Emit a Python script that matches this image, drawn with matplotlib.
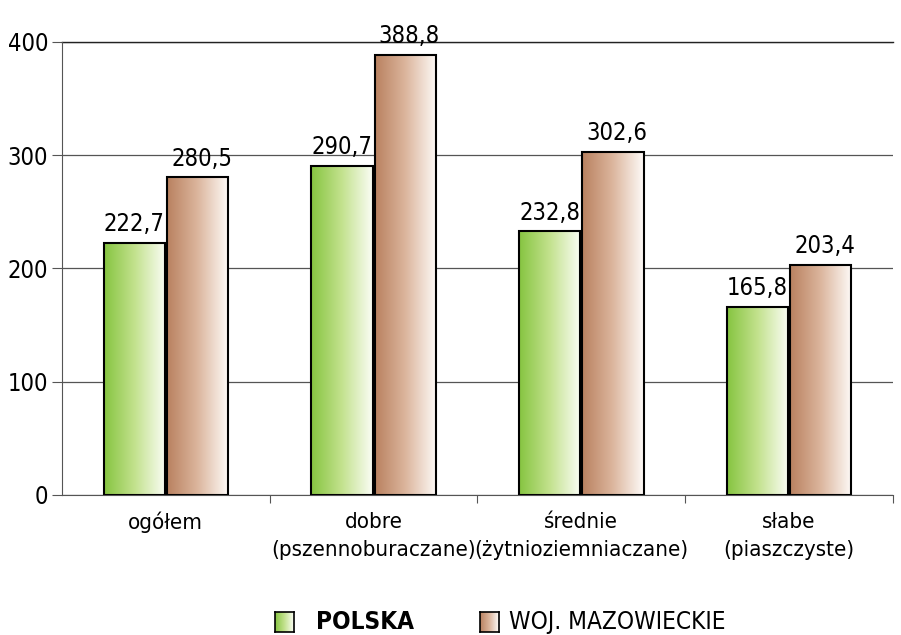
import numpy as np
import matplotlib.pyplot as plt
from matplotlib.patches import Rectangle
from matplotlib.colors import LinearSegmentedColormap

plt.rcParams['font.family'] = ['DejaVu Sans']
plt.rcParams['font.stretch'] = 'condensed'

categories = ['ogółem', 'dobre\n(pszennoburaczane)', 'średnie\n(żytnioziemniaczane)', 'słabe\n(piaszczyste)']
polska = [222.7, 290.7, 232.8, 165.8]
mazowieckie = [280.5, 388.8, 302.6, 203.4]
series_names = ['POLSKA', 'WOJ. MAZOWIECKIE']

green = LinearSegmentedColormap.from_list('g', ['#86c440', '#c3e28e', '#fbfdf6'])
brown = LinearSegmentedColormap.from_list('b', ['#b98160', '#dcb69e', '#fefbf8'])
grad = np.linspace(0, 1, 256).reshape(1, -1)


def gradient_bar(ax, x0, w, h, cmap):
    ax.imshow(grad, cmap=cmap, extent=[x0, x0 + w, 0, h], aspect='auto',
              interpolation='bicubic', zorder=2)
    ax.add_patch(Rectangle((x0, 0), w, h, fill=False, edgecolor='black',
                           linewidth=1.5, zorder=3))


fig = plt.figure(figsize=(9.01, 6.35), dpi=100)
ax = fig.add_axes([0.0688, 0.2205, 0.9222, 0.7134])

x = np.arange(len(categories))
w = 0.295
gap = 0.005
for i in x:
    gradient_bar(ax, i - w - gap, w, polska[i], green)
    gradient_bar(ax, i + gap, w, mazowieckie[i], brown)
    ax.text(i - w / 2 - gap, polska[i] + 6, f'{polska[i]:.1f}'.replace('.', ','),
            ha='center', va='bottom', fontsize=17)
    ax.text(i + w / 2 + gap + 0.02, mazowieckie[i] + 6, f'{mazowieckie[i]:.1f}'.replace('.', ','),
            ha='center', va='bottom', fontsize=17)

ax.set_xlim(-0.5, len(categories) - 0.5)
ax.set_ylim(0, 400)
ax.set_yticks([0, 100, 200, 300, 400])
ax.tick_params(axis='y', labelsize=17, length=7, width=0.8, color='#555555', pad=3)
ax.set_xticks(x + 0.5)
ax.set_xticklabels([])
ax.set_xticks(x, minor=True)
ax.set_xticklabels(categories, minor=True, fontsize=16, linespacing=1.5)
ax.tick_params(axis='x', which='major', length=6, width=0.8, color='#555555', direction='out')
ax.tick_params(axis='x', which='minor', length=0, pad=12)
ax.grid(axis='y', color='#555555', linewidth=0.9, zorder=0)
ax.set_axisbelow(True)
for s in ['top', 'right']:
    ax.spines[s].set_visible(False)
ax.spines['left'].set_color('#555555')
ax.spines['bottom'].set_color('#555555')
ax.axhline(400, color='#222222', linewidth=1.0, zorder=1, clip_on=False)

# legend
for lx, tx, cmap, name, bold in [(0.305, 0.351, green, series_names[0], True),
                                 (0.533, 0.565, brown, series_names[1], False)]:
    lax = fig.add_axes([lx, 0.0055, 0.021, 0.030])
    lax.imshow(grad, cmap=cmap, aspect='auto', interpolation='bicubic')
    lax.set_xticks([])
    lax.set_yticks([])
    for s in lax.spines.values():
        s.set_linewidth(1.2)
    fig.text(tx, 0.0205, name, fontsize=17.5, va='center',
             fontweight='bold' if bold else 'normal')

fig.savefig('out.png', dpi=100)
